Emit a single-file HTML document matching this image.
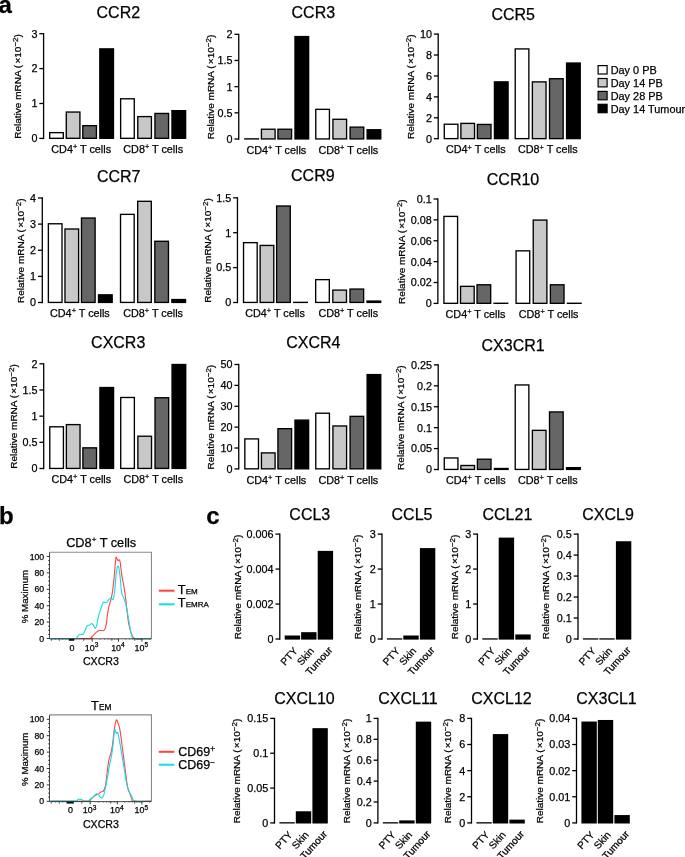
<!DOCTYPE html>
<html><head><meta charset="utf-8"><style>
html,body{margin:0;padding:0;background:#fff;width:685px;height:857px;overflow:hidden}
svg{display:block;font-family:"Liberation Sans", sans-serif;will-change:transform}
text{stroke:#000;stroke-width:0.25px;paint-order:stroke}
</style></head><body>
<svg width="685" height="857" viewBox="0 0 685 857">
<rect width="685" height="857" fill="#fff"/>
<line x1="43.60" y1="33.05" x2="43.60" y2="139.05" stroke="#000" stroke-width="1.3"/>
<line x1="39.30" y1="138.40" x2="43.60" y2="138.40" stroke="#000" stroke-width="1.3"/>
<text x="37.40" y="142.29" font-size="10.8" text-anchor="end" >0</text>
<line x1="39.30" y1="103.50" x2="43.60" y2="103.50" stroke="#000" stroke-width="1.3"/>
<text x="37.40" y="107.39" font-size="10.8" text-anchor="end" >1</text>
<line x1="39.30" y1="68.60" x2="43.60" y2="68.60" stroke="#000" stroke-width="1.3"/>
<text x="37.40" y="72.49" font-size="10.8" text-anchor="end" >2</text>
<line x1="39.30" y1="33.70" x2="43.60" y2="33.70" stroke="#000" stroke-width="1.3"/>
<text x="37.40" y="37.59" font-size="10.8" text-anchor="end" >3</text>
<rect x="49.67" y="132.64" width="13.65" height="5.68" fill="#fff" stroke="#000" stroke-width="1.35"/>
<rect x="66.27" y="112.05" width="13.65" height="26.27" fill="#c8c8c8" stroke="#000" stroke-width="1.35"/>
<rect x="82.77" y="125.66" width="13.65" height="12.66" fill="#666666" stroke="#000" stroke-width="1.35"/>
<rect x="99.83" y="48.88" width="13.65" height="89.44" fill="#000" stroke="#000" stroke-width="1.35"/>
<rect x="120.62" y="98.79" width="13.65" height="39.54" fill="#fff" stroke="#000" stroke-width="1.35"/>
<rect x="137.78" y="116.59" width="13.65" height="21.74" fill="#c8c8c8" stroke="#000" stroke-width="1.35"/>
<rect x="154.93" y="113.45" width="13.65" height="24.88" fill="#666666" stroke="#000" stroke-width="1.35"/>
<rect x="171.97" y="110.66" width="13.65" height="27.67" fill="#000" stroke="#000" stroke-width="1.35"/>
<text x="118.30" y="17.60" font-size="16" text-anchor="middle" >CCR2</text>
<text x="0" y="0" font-size="10.0" text-anchor="middle" transform="translate(20.70,86.45) rotate(-90) scale(1,0.96)">Relative mRNA (<tspan dx="1.3">×10</tspan><tspan font-size="8" dy="-3.1">−2</tspan><tspan dy="3.1">)</tspan></text>
<text x="81.20" y="153.00" font-size="10.8" text-anchor="middle">CD4<tspan font-size="7.4" dy="-3.8">+</tspan><tspan dy="3.8"> T cells</tspan></text>
<text x="153.20" y="153.00" font-size="10.8" text-anchor="middle">CD8<tspan font-size="7.4" dy="-3.8">+</tspan><tspan dy="3.8"> T cells</tspan></text>
<line x1="238.75" y1="33.65" x2="238.75" y2="139.65" stroke="#000" stroke-width="1.3"/>
<line x1="234.45" y1="139.00" x2="238.75" y2="139.00" stroke="#000" stroke-width="1.3"/>
<text x="232.55" y="142.89" font-size="10.8" text-anchor="end" >0</text>
<line x1="234.45" y1="112.83" x2="238.75" y2="112.83" stroke="#000" stroke-width="1.3"/>
<text x="232.55" y="116.71" font-size="10.8" text-anchor="end" >0.5</text>
<line x1="234.45" y1="86.65" x2="238.75" y2="86.65" stroke="#000" stroke-width="1.3"/>
<text x="232.55" y="90.54" font-size="10.8" text-anchor="end" >1</text>
<line x1="234.45" y1="60.47" x2="238.75" y2="60.47" stroke="#000" stroke-width="1.3"/>
<text x="232.55" y="64.36" font-size="10.8" text-anchor="end" >1.5</text>
<line x1="234.45" y1="34.30" x2="238.75" y2="34.30" stroke="#000" stroke-width="1.3"/>
<text x="232.55" y="38.19" font-size="10.8" text-anchor="end" >2</text>
<rect x="244.83" y="138.86" width="13.65" height="0.07" fill="#fff" stroke="#000" stroke-width="1.35"/>
<rect x="261.43" y="129.23" width="13.65" height="9.70" fill="#c8c8c8" stroke="#000" stroke-width="1.35"/>
<rect x="277.93" y="129.23" width="13.65" height="9.70" fill="#666666" stroke="#000" stroke-width="1.35"/>
<rect x="294.98" y="36.57" width="13.65" height="102.36" fill="#000" stroke="#000" stroke-width="1.35"/>
<rect x="315.78" y="109.34" width="13.65" height="29.59" fill="#fff" stroke="#000" stroke-width="1.35"/>
<rect x="332.93" y="119.28" width="13.65" height="19.64" fill="#c8c8c8" stroke="#000" stroke-width="1.35"/>
<rect x="350.07" y="127.13" width="13.65" height="11.79" fill="#666666" stroke="#000" stroke-width="1.35"/>
<rect x="367.12" y="129.75" width="13.65" height="9.17" fill="#000" stroke="#000" stroke-width="1.35"/>
<text x="313.30" y="17.70" font-size="16" text-anchor="middle" >CCR3</text>
<text x="0" y="0" font-size="10.0" text-anchor="middle" transform="translate(213.60,87.05) rotate(-90) scale(1,0.96)">Relative mRNA (<tspan dx="1.3">×10</tspan><tspan font-size="8" dy="-3.1">−2</tspan><tspan dy="3.1">)</tspan></text>
<text x="276.35" y="153.60" font-size="10.8" text-anchor="middle">CD4<tspan font-size="7.4" dy="-3.8">+</tspan><tspan dy="3.8"> T cells</tspan></text>
<text x="348.35" y="153.60" font-size="10.8" text-anchor="middle">CD8<tspan font-size="7.4" dy="-3.8">+</tspan><tspan dy="3.8"> T cells</tspan></text>
<line x1="438.20" y1="33.45" x2="438.20" y2="139.35" stroke="#000" stroke-width="1.3"/>
<line x1="433.90" y1="138.70" x2="438.20" y2="138.70" stroke="#000" stroke-width="1.3"/>
<text x="432.00" y="142.59" font-size="10.8" text-anchor="end" >0</text>
<line x1="433.90" y1="117.78" x2="438.20" y2="117.78" stroke="#000" stroke-width="1.3"/>
<text x="432.00" y="121.67" font-size="10.8" text-anchor="end" >2</text>
<line x1="433.90" y1="96.86" x2="438.20" y2="96.86" stroke="#000" stroke-width="1.3"/>
<text x="432.00" y="100.75" font-size="10.8" text-anchor="end" >4</text>
<line x1="433.90" y1="75.94" x2="438.20" y2="75.94" stroke="#000" stroke-width="1.3"/>
<text x="432.00" y="79.83" font-size="10.8" text-anchor="end" >6</text>
<line x1="433.90" y1="55.02" x2="438.20" y2="55.02" stroke="#000" stroke-width="1.3"/>
<text x="432.00" y="58.91" font-size="10.8" text-anchor="end" >8</text>
<line x1="433.90" y1="34.10" x2="438.20" y2="34.10" stroke="#000" stroke-width="1.3"/>
<text x="432.00" y="37.99" font-size="10.8" text-anchor="end" >10</text>
<rect x="444.27" y="124.23" width="13.65" height="14.39" fill="#fff" stroke="#000" stroke-width="1.35"/>
<rect x="460.88" y="123.39" width="13.65" height="15.23" fill="#c8c8c8" stroke="#000" stroke-width="1.35"/>
<rect x="477.38" y="124.44" width="13.65" height="14.18" fill="#666666" stroke="#000" stroke-width="1.35"/>
<rect x="494.43" y="81.87" width="13.65" height="56.76" fill="#000" stroke="#000" stroke-width="1.35"/>
<rect x="515.22" y="48.92" width="13.65" height="89.71" fill="#fff" stroke="#000" stroke-width="1.35"/>
<rect x="532.38" y="81.87" width="13.65" height="56.76" fill="#c8c8c8" stroke="#000" stroke-width="1.35"/>
<rect x="549.52" y="78.73" width="13.65" height="59.89" fill="#666666" stroke="#000" stroke-width="1.35"/>
<rect x="566.57" y="63.04" width="13.65" height="75.58" fill="#000" stroke="#000" stroke-width="1.35"/>
<text x="513.20" y="19.80" font-size="16" text-anchor="middle" >CCR5</text>
<text x="0" y="0" font-size="10.0" text-anchor="middle" transform="translate(414.20,86.80) rotate(-90) scale(1,0.96)">Relative mRNA (<tspan dx="1.3">×10</tspan><tspan font-size="8" dy="-3.1">−2</tspan><tspan dy="3.1">)</tspan></text>
<text x="475.80" y="153.30" font-size="10.8" text-anchor="middle">CD4<tspan font-size="7.4" dy="-3.8">+</tspan><tspan dy="3.8"> T cells</tspan></text>
<text x="547.80" y="153.30" font-size="10.8" text-anchor="middle">CD8<tspan font-size="7.4" dy="-3.8">+</tspan><tspan dy="3.8"> T cells</tspan></text>
<line x1="42.30" y1="197.35" x2="42.30" y2="303.15" stroke="#000" stroke-width="1.3"/>
<line x1="38.00" y1="302.50" x2="42.30" y2="302.50" stroke="#000" stroke-width="1.3"/>
<text x="36.10" y="306.39" font-size="10.8" text-anchor="end" >0</text>
<line x1="38.00" y1="276.38" x2="42.30" y2="276.38" stroke="#000" stroke-width="1.3"/>
<text x="36.10" y="280.26" font-size="10.8" text-anchor="end" >1</text>
<line x1="38.00" y1="250.25" x2="42.30" y2="250.25" stroke="#000" stroke-width="1.3"/>
<text x="36.10" y="254.14" font-size="10.8" text-anchor="end" >2</text>
<line x1="38.00" y1="224.12" x2="42.30" y2="224.12" stroke="#000" stroke-width="1.3"/>
<text x="36.10" y="228.01" font-size="10.8" text-anchor="end" >3</text>
<line x1="38.00" y1="198.00" x2="42.30" y2="198.00" stroke="#000" stroke-width="1.3"/>
<text x="36.10" y="201.89" font-size="10.8" text-anchor="end" >4</text>
<rect x="48.37" y="223.78" width="13.65" height="78.65" fill="#fff" stroke="#000" stroke-width="1.35"/>
<rect x="64.97" y="229.00" width="13.65" height="73.42" fill="#c8c8c8" stroke="#000" stroke-width="1.35"/>
<rect x="81.47" y="218.03" width="13.65" height="84.40" fill="#666666" stroke="#000" stroke-width="1.35"/>
<rect x="98.52" y="294.84" width="13.65" height="7.59" fill="#000" stroke="#000" stroke-width="1.35"/>
<rect x="120.52" y="214.37" width="13.65" height="88.05" fill="#fff" stroke="#000" stroke-width="1.35"/>
<rect x="137.68" y="201.31" width="13.65" height="101.12" fill="#c8c8c8" stroke="#000" stroke-width="1.35"/>
<rect x="154.82" y="241.28" width="13.65" height="61.14" fill="#666666" stroke="#000" stroke-width="1.35"/>
<rect x="171.88" y="299.54" width="13.65" height="2.89" fill="#000" stroke="#000" stroke-width="1.35"/>
<text x="118.70" y="182.00" font-size="16" text-anchor="middle" >CCR7</text>
<text x="0" y="0" font-size="10.0" text-anchor="middle" transform="translate(23.50,250.65) rotate(-90) scale(1,0.96)">Relative mRNA (<tspan dx="1.3">×10</tspan><tspan font-size="8" dy="-3.1">−2</tspan><tspan dy="3.1">)</tspan></text>
<text x="79.90" y="317.10" font-size="10.8" text-anchor="middle">CD4<tspan font-size="7.4" dy="-3.8">+</tspan><tspan dy="3.8"> T cells</tspan></text>
<text x="153.10" y="317.10" font-size="10.8" text-anchor="middle">CD8<tspan font-size="7.4" dy="-3.8">+</tspan><tspan dy="3.8"> T cells</tspan></text>
<line x1="237.45" y1="197.15" x2="237.45" y2="303.15" stroke="#000" stroke-width="1.3"/>
<line x1="233.15" y1="302.50" x2="237.45" y2="302.50" stroke="#000" stroke-width="1.3"/>
<text x="231.25" y="306.39" font-size="10.8" text-anchor="end" >0</text>
<line x1="233.15" y1="267.60" x2="237.45" y2="267.60" stroke="#000" stroke-width="1.3"/>
<text x="231.25" y="271.49" font-size="10.8" text-anchor="end" >0.5</text>
<line x1="233.15" y1="232.70" x2="237.45" y2="232.70" stroke="#000" stroke-width="1.3"/>
<text x="231.25" y="236.59" font-size="10.8" text-anchor="end" >1</text>
<line x1="233.15" y1="197.80" x2="237.45" y2="197.80" stroke="#000" stroke-width="1.3"/>
<text x="231.25" y="201.69" font-size="10.8" text-anchor="end" >1.5</text>
<rect x="243.53" y="242.65" width="13.65" height="59.78" fill="#fff" stroke="#000" stroke-width="1.35"/>
<rect x="260.12" y="245.44" width="13.65" height="56.99" fill="#c8c8c8" stroke="#000" stroke-width="1.35"/>
<rect x="276.62" y="206.00" width="13.65" height="96.42" fill="#666666" stroke="#000" stroke-width="1.35"/>
<rect x="293.68" y="302.36" width="13.65" height="0.07" fill="#000" stroke="#000" stroke-width="1.35"/>
<rect x="315.67" y="279.64" width="13.65" height="22.78" fill="#fff" stroke="#000" stroke-width="1.35"/>
<rect x="332.82" y="290.11" width="13.65" height="12.31" fill="#c8c8c8" stroke="#000" stroke-width="1.35"/>
<rect x="349.98" y="289.06" width="13.65" height="13.36" fill="#666666" stroke="#000" stroke-width="1.35"/>
<rect x="367.02" y="301.08" width="13.65" height="1.34" fill="#000" stroke="#000" stroke-width="1.35"/>
<text x="312.80" y="181.30" font-size="16" text-anchor="middle" >CCR9</text>
<text x="0" y="0" font-size="10.0" text-anchor="middle" transform="translate(211.20,250.55) rotate(-90) scale(1,0.96)">Relative mRNA (<tspan dx="1.3">×10</tspan><tspan font-size="8" dy="-3.1">−2</tspan><tspan dy="3.1">)</tspan></text>
<text x="275.05" y="317.10" font-size="10.8" text-anchor="middle">CD4<tspan font-size="7.4" dy="-3.8">+</tspan><tspan dy="3.8"> T cells</tspan></text>
<text x="348.25" y="317.10" font-size="10.8" text-anchor="middle">CD8<tspan font-size="7.4" dy="-3.8">+</tspan><tspan dy="3.8"> T cells</tspan></text>
<line x1="437.85" y1="198.35" x2="437.85" y2="304.05" stroke="#000" stroke-width="1.3"/>
<line x1="433.55" y1="303.40" x2="437.85" y2="303.40" stroke="#000" stroke-width="1.3"/>
<text x="431.65" y="307.29" font-size="10.8" text-anchor="end" >0</text>
<line x1="433.55" y1="282.52" x2="437.85" y2="282.52" stroke="#000" stroke-width="1.3"/>
<text x="431.65" y="286.41" font-size="10.8" text-anchor="end" >0.02</text>
<line x1="433.55" y1="261.64" x2="437.85" y2="261.64" stroke="#000" stroke-width="1.3"/>
<text x="431.65" y="265.53" font-size="10.8" text-anchor="end" >0.04</text>
<line x1="433.55" y1="240.76" x2="437.85" y2="240.76" stroke="#000" stroke-width="1.3"/>
<text x="431.65" y="244.65" font-size="10.8" text-anchor="end" >0.06</text>
<line x1="433.55" y1="219.88" x2="437.85" y2="219.88" stroke="#000" stroke-width="1.3"/>
<text x="431.65" y="223.77" font-size="10.8" text-anchor="end" >0.08</text>
<line x1="433.55" y1="199.00" x2="437.85" y2="199.00" stroke="#000" stroke-width="1.3"/>
<text x="431.65" y="202.89" font-size="10.8" text-anchor="end" >0.1</text>
<rect x="443.93" y="216.40" width="13.65" height="86.92" fill="#fff" stroke="#000" stroke-width="1.35"/>
<rect x="460.53" y="286.35" width="13.65" height="16.98" fill="#c8c8c8" stroke="#000" stroke-width="1.35"/>
<rect x="477.03" y="284.78" width="13.65" height="18.54" fill="#666666" stroke="#000" stroke-width="1.35"/>
<rect x="494.08" y="303.26" width="13.65" height="0.07" fill="#000" stroke="#000" stroke-width="1.35"/>
<rect x="516.08" y="250.85" width="13.65" height="52.47" fill="#fff" stroke="#000" stroke-width="1.35"/>
<rect x="533.23" y="220.06" width="13.65" height="83.27" fill="#c8c8c8" stroke="#000" stroke-width="1.35"/>
<rect x="550.38" y="284.78" width="13.65" height="18.54" fill="#666666" stroke="#000" stroke-width="1.35"/>
<rect x="567.42" y="303.26" width="13.65" height="0.07" fill="#000" stroke="#000" stroke-width="1.35"/>
<text x="513.00" y="185.00" font-size="16" text-anchor="middle" >CCR10</text>
<text x="0" y="0" font-size="10.0" text-anchor="middle" transform="translate(404.50,251.60) rotate(-90) scale(1,0.96)">Relative mRNA (<tspan dx="1.3">×10</tspan><tspan font-size="8" dy="-3.1">−2</tspan><tspan dy="3.1">)</tspan></text>
<text x="475.45" y="318.00" font-size="10.8" text-anchor="middle">CD4<tspan font-size="7.4" dy="-3.8">+</tspan><tspan dy="3.8"> T cells</tspan></text>
<text x="548.65" y="318.00" font-size="10.8" text-anchor="middle">CD8<tspan font-size="7.4" dy="-3.8">+</tspan><tspan dy="3.8"> T cells</tspan></text>
<line x1="43.70" y1="363.15" x2="43.70" y2="469.15" stroke="#000" stroke-width="1.3"/>
<line x1="39.40" y1="468.50" x2="43.70" y2="468.50" stroke="#000" stroke-width="1.3"/>
<text x="37.50" y="472.39" font-size="10.8" text-anchor="end" >0</text>
<line x1="39.40" y1="442.32" x2="43.70" y2="442.32" stroke="#000" stroke-width="1.3"/>
<text x="37.50" y="446.21" font-size="10.8" text-anchor="end" >0.5</text>
<line x1="39.40" y1="416.15" x2="43.70" y2="416.15" stroke="#000" stroke-width="1.3"/>
<text x="37.50" y="420.04" font-size="10.8" text-anchor="end" >1</text>
<line x1="39.40" y1="389.98" x2="43.70" y2="389.98" stroke="#000" stroke-width="1.3"/>
<text x="37.50" y="393.86" font-size="10.8" text-anchor="end" >1.5</text>
<line x1="39.40" y1="363.80" x2="43.70" y2="363.80" stroke="#000" stroke-width="1.3"/>
<text x="37.50" y="367.69" font-size="10.8" text-anchor="end" >2</text>
<rect x="49.77" y="426.80" width="13.65" height="41.63" fill="#fff" stroke="#000" stroke-width="1.35"/>
<rect x="66.38" y="424.60" width="13.65" height="43.83" fill="#c8c8c8" stroke="#000" stroke-width="1.35"/>
<rect x="82.88" y="447.84" width="13.65" height="20.59" fill="#666666" stroke="#000" stroke-width="1.35"/>
<rect x="99.92" y="387.53" width="13.65" height="80.89" fill="#000" stroke="#000" stroke-width="1.35"/>
<rect x="120.72" y="397.48" width="13.65" height="70.95" fill="#fff" stroke="#000" stroke-width="1.35"/>
<rect x="137.88" y="436.22" width="13.65" height="32.21" fill="#c8c8c8" stroke="#000" stroke-width="1.35"/>
<rect x="155.03" y="397.74" width="13.65" height="70.68" fill="#666666" stroke="#000" stroke-width="1.35"/>
<rect x="172.07" y="364.50" width="13.65" height="103.93" fill="#000" stroke="#000" stroke-width="1.35"/>
<text x="118.20" y="347.50" font-size="16" text-anchor="middle" >CXCR3</text>
<text x="0" y="0" font-size="10.0" text-anchor="middle" transform="translate(17.20,416.55) rotate(-90) scale(1,0.96)">Relative mRNA (<tspan dx="1.3">×10</tspan><tspan font-size="8" dy="-3.1">−2</tspan><tspan dy="3.1">)</tspan></text>
<text x="81.30" y="483.10" font-size="10.8" text-anchor="middle">CD4<tspan font-size="7.4" dy="-3.8">+</tspan><tspan dy="3.8"> T cells</tspan></text>
<text x="153.30" y="483.10" font-size="10.8" text-anchor="middle">CD8<tspan font-size="7.4" dy="-3.8">+</tspan><tspan dy="3.8"> T cells</tspan></text>
<line x1="238.75" y1="363.85" x2="238.75" y2="469.55" stroke="#000" stroke-width="1.3"/>
<line x1="234.45" y1="468.90" x2="238.75" y2="468.90" stroke="#000" stroke-width="1.3"/>
<text x="232.55" y="472.79" font-size="10.8" text-anchor="end" >0</text>
<line x1="234.45" y1="448.02" x2="238.75" y2="448.02" stroke="#000" stroke-width="1.3"/>
<text x="232.55" y="451.91" font-size="10.8" text-anchor="end" >10</text>
<line x1="234.45" y1="427.14" x2="238.75" y2="427.14" stroke="#000" stroke-width="1.3"/>
<text x="232.55" y="431.03" font-size="10.8" text-anchor="end" >20</text>
<line x1="234.45" y1="406.26" x2="238.75" y2="406.26" stroke="#000" stroke-width="1.3"/>
<text x="232.55" y="410.15" font-size="10.8" text-anchor="end" >30</text>
<line x1="234.45" y1="385.38" x2="238.75" y2="385.38" stroke="#000" stroke-width="1.3"/>
<text x="232.55" y="389.27" font-size="10.8" text-anchor="end" >40</text>
<line x1="234.45" y1="364.50" x2="238.75" y2="364.50" stroke="#000" stroke-width="1.3"/>
<text x="232.55" y="368.39" font-size="10.8" text-anchor="end" >50</text>
<rect x="244.83" y="438.90" width="13.65" height="29.92" fill="#fff" stroke="#000" stroke-width="1.35"/>
<rect x="261.43" y="452.89" width="13.65" height="15.93" fill="#c8c8c8" stroke="#000" stroke-width="1.35"/>
<rect x="277.93" y="428.67" width="13.65" height="40.15" fill="#666666" stroke="#000" stroke-width="1.35"/>
<rect x="294.98" y="420.11" width="13.65" height="48.71" fill="#000" stroke="#000" stroke-width="1.35"/>
<rect x="315.78" y="413.22" width="13.65" height="55.60" fill="#fff" stroke="#000" stroke-width="1.35"/>
<rect x="332.93" y="425.96" width="13.65" height="42.87" fill="#c8c8c8" stroke="#000" stroke-width="1.35"/>
<rect x="350.07" y="416.35" width="13.65" height="52.47" fill="#666666" stroke="#000" stroke-width="1.35"/>
<rect x="367.12" y="374.59" width="13.65" height="94.23" fill="#000" stroke="#000" stroke-width="1.35"/>
<text x="313.30" y="347.50" font-size="16" text-anchor="middle" >CXCR4</text>
<text x="0" y="0" font-size="10.0" text-anchor="middle" transform="translate(214.00,417.10) rotate(-90) scale(1,0.96)">Relative mRNA (<tspan dx="1.3">×10</tspan><tspan font-size="8" dy="-3.1">−2</tspan><tspan dy="3.1">)</tspan></text>
<text x="276.35" y="483.50" font-size="10.8" text-anchor="middle">CD4<tspan font-size="7.4" dy="-3.8">+</tspan><tspan dy="3.8"> T cells</tspan></text>
<text x="348.35" y="483.50" font-size="10.8" text-anchor="middle">CD8<tspan font-size="7.4" dy="-3.8">+</tspan><tspan dy="3.8"> T cells</tspan></text>
<line x1="438.20" y1="364.25" x2="438.20" y2="470.15" stroke="#000" stroke-width="1.3"/>
<line x1="433.90" y1="469.50" x2="438.20" y2="469.50" stroke="#000" stroke-width="1.3"/>
<text x="432.00" y="473.39" font-size="10.8" text-anchor="end" >0</text>
<line x1="433.90" y1="448.58" x2="438.20" y2="448.58" stroke="#000" stroke-width="1.3"/>
<text x="432.00" y="452.47" font-size="10.8" text-anchor="end" >0.05</text>
<line x1="433.90" y1="427.66" x2="438.20" y2="427.66" stroke="#000" stroke-width="1.3"/>
<text x="432.00" y="431.55" font-size="10.8" text-anchor="end" >0.1</text>
<line x1="433.90" y1="406.74" x2="438.20" y2="406.74" stroke="#000" stroke-width="1.3"/>
<text x="432.00" y="410.63" font-size="10.8" text-anchor="end" >0.15</text>
<line x1="433.90" y1="385.82" x2="438.20" y2="385.82" stroke="#000" stroke-width="1.3"/>
<text x="432.00" y="389.71" font-size="10.8" text-anchor="end" >0.2</text>
<line x1="433.90" y1="364.90" x2="438.20" y2="364.90" stroke="#000" stroke-width="1.3"/>
<text x="432.00" y="368.79" font-size="10.8" text-anchor="end" >0.25</text>
<rect x="444.27" y="457.96" width="13.65" height="11.47" fill="#fff" stroke="#000" stroke-width="1.35"/>
<rect x="460.88" y="465.49" width="13.65" height="3.93" fill="#c8c8c8" stroke="#000" stroke-width="1.35"/>
<rect x="477.38" y="459.22" width="13.65" height="10.21" fill="#666666" stroke="#000" stroke-width="1.35"/>
<rect x="494.43" y="468.50" width="13.65" height="0.92" fill="#000" stroke="#000" stroke-width="1.35"/>
<rect x="515.22" y="384.95" width="13.65" height="84.48" fill="#fff" stroke="#000" stroke-width="1.35"/>
<rect x="532.38" y="430.35" width="13.65" height="39.08" fill="#c8c8c8" stroke="#000" stroke-width="1.35"/>
<rect x="549.52" y="411.94" width="13.65" height="57.49" fill="#666666" stroke="#000" stroke-width="1.35"/>
<rect x="566.57" y="467.66" width="13.65" height="1.76" fill="#000" stroke="#000" stroke-width="1.35"/>
<text x="513.10" y="350.60" font-size="16" text-anchor="middle" >CX3CR1</text>
<text x="0" y="0" font-size="10.0" text-anchor="middle" transform="translate(404.40,417.60) rotate(-90) scale(1,0.96)">Relative mRNA (<tspan dx="1.3">×10</tspan><tspan font-size="8" dy="-3.1">−2</tspan><tspan dy="3.1">)</tspan></text>
<text x="475.80" y="484.10" font-size="10.8" text-anchor="middle">CD4<tspan font-size="7.4" dy="-3.8">+</tspan><tspan dy="3.8"> T cells</tspan></text>
<text x="547.80" y="484.10" font-size="10.8" text-anchor="middle">CD8<tspan font-size="7.4" dy="-3.8">+</tspan><tspan dy="3.8"> T cells</tspan></text>
<rect x="598.10" y="65.60" width="9.00" height="8.40" fill="#fff" stroke="#000" stroke-width="1.2"/>
<text x="610.70" y="73.90" font-size="10.9" text-anchor="start" >Day 0 PB</text>
<rect x="598.10" y="78.50" width="9.00" height="8.40" fill="#c8c8c8" stroke="#000" stroke-width="1.2"/>
<text x="610.70" y="86.80" font-size="10.9" text-anchor="start" >Day 14 PB</text>
<rect x="598.10" y="91.40" width="9.00" height="8.40" fill="#666666" stroke="#000" stroke-width="1.2"/>
<text x="610.70" y="99.70" font-size="10.9" text-anchor="start" >Day 28 PB</text>
<rect x="598.10" y="104.30" width="9.00" height="8.40" fill="#000" stroke="#000" stroke-width="1.2"/>
<text x="610.70" y="112.60" font-size="10.9" text-anchor="start" >Day 14 Tumour</text>
<text x="-1.60" y="12.90" font-size="24" text-anchor="start" font-weight="bold" >a</text>
<text x="-1.00" y="524.30" font-size="24" text-anchor="start" font-weight="bold" >b</text>
<text x="206.20" y="524.10" font-size="24" text-anchor="start" font-weight="bold" >c</text>
<line x1="279.80" y1="533.45" x2="279.80" y2="639.65" stroke="#000" stroke-width="1.3"/>
<line x1="275.50" y1="639.00" x2="279.80" y2="639.00" stroke="#000" stroke-width="1.3"/>
<text x="273.60" y="642.89" font-size="10.8" text-anchor="end" >0</text>
<line x1="275.50" y1="604.03" x2="279.80" y2="604.03" stroke="#000" stroke-width="1.3"/>
<text x="273.60" y="607.92" font-size="10.8" text-anchor="end" >0.002</text>
<line x1="275.50" y1="569.07" x2="279.80" y2="569.07" stroke="#000" stroke-width="1.3"/>
<text x="273.60" y="572.95" font-size="10.8" text-anchor="end" >0.004</text>
<line x1="275.50" y1="534.10" x2="279.80" y2="534.10" stroke="#000" stroke-width="1.3"/>
<text x="273.60" y="537.99" font-size="10.8" text-anchor="end" >0.006</text>
<rect x="284.70" y="635.50" width="15.40" height="4.10" fill="#000"/>
<rect x="301.10" y="632.18" width="15.40" height="7.42" fill="#000"/>
<rect x="317.70" y="550.88" width="15.40" height="88.72" fill="#000"/>
<text x="309.80" y="520.10" font-size="16" text-anchor="middle" >CCL3</text>
<text x="0" y="0" font-size="10.0" text-anchor="middle" transform="translate(240.60,586.95) rotate(-90) scale(1,0.96)">Relative mRNA (<tspan dx="1.3">×10</tspan><tspan font-size="8" dy="-3.1">−2</tspan><tspan dy="3.1">)</tspan></text>
<text x="0" y="0" font-size="10.1" text-anchor="end" transform="translate(298.20,651.30) rotate(-48)">PTY</text>
<text x="0" y="0" font-size="10.1" text-anchor="end" transform="translate(314.60,651.30) rotate(-48)">Skin</text>
<text x="0" y="0" font-size="10.1" text-anchor="end" transform="translate(333.00,650.50) rotate(-48)">Tumour</text>
<line x1="382.00" y1="533.45" x2="382.00" y2="639.65" stroke="#000" stroke-width="1.3"/>
<line x1="377.70" y1="639.00" x2="382.00" y2="639.00" stroke="#000" stroke-width="1.3"/>
<text x="375.80" y="642.89" font-size="10.8" text-anchor="end" >0</text>
<line x1="377.70" y1="604.03" x2="382.00" y2="604.03" stroke="#000" stroke-width="1.3"/>
<text x="375.80" y="607.92" font-size="10.8" text-anchor="end" >1</text>
<line x1="377.70" y1="569.07" x2="382.00" y2="569.07" stroke="#000" stroke-width="1.3"/>
<text x="375.80" y="572.95" font-size="10.8" text-anchor="end" >2</text>
<line x1="377.70" y1="534.10" x2="382.00" y2="534.10" stroke="#000" stroke-width="1.3"/>
<text x="375.80" y="537.99" font-size="10.8" text-anchor="end" >3</text>
<rect x="386.90" y="638.30" width="15.40" height="1.30" fill="#000"/>
<rect x="403.30" y="635.50" width="15.40" height="4.10" fill="#000"/>
<rect x="419.90" y="548.09" width="15.40" height="91.51" fill="#000"/>
<text x="412.00" y="520.10" font-size="16" text-anchor="middle" >CCL5</text>
<text x="0" y="0" font-size="10.0" text-anchor="middle" transform="translate(361.00,586.95) rotate(-90) scale(1,0.96)">Relative mRNA (<tspan dx="1.3">×10</tspan><tspan font-size="8" dy="-3.1">−2</tspan><tspan dy="3.1">)</tspan></text>
<text x="0" y="0" font-size="10.1" text-anchor="end" transform="translate(400.40,651.30) rotate(-48)">PTY</text>
<text x="0" y="0" font-size="10.1" text-anchor="end" transform="translate(416.80,651.30) rotate(-48)">Skin</text>
<text x="0" y="0" font-size="10.1" text-anchor="end" transform="translate(435.20,650.50) rotate(-48)">Tumour</text>
<line x1="477.40" y1="533.45" x2="477.40" y2="639.65" stroke="#000" stroke-width="1.3"/>
<line x1="473.10" y1="639.00" x2="477.40" y2="639.00" stroke="#000" stroke-width="1.3"/>
<text x="471.20" y="642.89" font-size="10.8" text-anchor="end" >0</text>
<line x1="473.10" y1="604.03" x2="477.40" y2="604.03" stroke="#000" stroke-width="1.3"/>
<text x="471.20" y="607.92" font-size="10.8" text-anchor="end" >1</text>
<line x1="473.10" y1="569.07" x2="477.40" y2="569.07" stroke="#000" stroke-width="1.3"/>
<text x="471.20" y="572.95" font-size="10.8" text-anchor="end" >2</text>
<line x1="473.10" y1="534.10" x2="477.40" y2="534.10" stroke="#000" stroke-width="1.3"/>
<text x="471.20" y="537.99" font-size="10.8" text-anchor="end" >3</text>
<rect x="482.30" y="638.30" width="15.40" height="1.30" fill="#000"/>
<rect x="498.70" y="537.60" width="15.40" height="102.00" fill="#000"/>
<rect x="515.30" y="634.45" width="15.40" height="5.15" fill="#000"/>
<text x="507.40" y="520.10" font-size="16" text-anchor="middle" >CCL21</text>
<text x="0" y="0" font-size="10.0" text-anchor="middle" transform="translate(458.40,586.95) rotate(-90) scale(1,0.96)">Relative mRNA (<tspan dx="1.3">×10</tspan><tspan font-size="8" dy="-3.1">−2</tspan><tspan dy="3.1">)</tspan></text>
<text x="0" y="0" font-size="10.1" text-anchor="end" transform="translate(495.80,651.30) rotate(-48)">PTY</text>
<text x="0" y="0" font-size="10.1" text-anchor="end" transform="translate(512.20,651.30) rotate(-48)">Skin</text>
<text x="0" y="0" font-size="10.1" text-anchor="end" transform="translate(530.60,650.50) rotate(-48)">Tumour</text>
<line x1="578.00" y1="533.45" x2="578.00" y2="639.65" stroke="#000" stroke-width="1.3"/>
<line x1="573.70" y1="639.00" x2="578.00" y2="639.00" stroke="#000" stroke-width="1.3"/>
<text x="571.80" y="642.89" font-size="10.8" text-anchor="end" >0</text>
<line x1="573.70" y1="618.02" x2="578.00" y2="618.02" stroke="#000" stroke-width="1.3"/>
<text x="571.80" y="621.91" font-size="10.8" text-anchor="end" >0.1</text>
<line x1="573.70" y1="597.04" x2="578.00" y2="597.04" stroke="#000" stroke-width="1.3"/>
<text x="571.80" y="600.93" font-size="10.8" text-anchor="end" >0.2</text>
<line x1="573.70" y1="576.06" x2="578.00" y2="576.06" stroke="#000" stroke-width="1.3"/>
<text x="571.80" y="579.95" font-size="10.8" text-anchor="end" >0.3</text>
<line x1="573.70" y1="555.08" x2="578.00" y2="555.08" stroke="#000" stroke-width="1.3"/>
<text x="571.80" y="558.97" font-size="10.8" text-anchor="end" >0.4</text>
<line x1="573.70" y1="534.10" x2="578.00" y2="534.10" stroke="#000" stroke-width="1.3"/>
<text x="571.80" y="537.99" font-size="10.8" text-anchor="end" >0.5</text>
<rect x="582.90" y="638.30" width="15.40" height="1.30" fill="#000"/>
<rect x="599.30" y="638.30" width="15.40" height="1.30" fill="#000"/>
<rect x="615.90" y="541.23" width="15.40" height="98.37" fill="#000"/>
<text x="608.00" y="520.10" font-size="16" text-anchor="middle" >CXCL9</text>
<text x="0" y="0" font-size="10.0" text-anchor="middle" transform="translate(548.70,586.95) rotate(-90) scale(1,0.96)">Relative mRNA (<tspan dx="1.3">×10</tspan><tspan font-size="8" dy="-3.1">−2</tspan><tspan dy="3.1">)</tspan></text>
<text x="0" y="0" font-size="10.1" text-anchor="end" transform="translate(596.40,651.30) rotate(-48)">PTY</text>
<text x="0" y="0" font-size="10.1" text-anchor="end" transform="translate(612.80,651.30) rotate(-48)">Skin</text>
<text x="0" y="0" font-size="10.1" text-anchor="end" transform="translate(631.20,650.50) rotate(-48)">Tumour</text>
<line x1="274.50" y1="717.75" x2="274.50" y2="823.55" stroke="#000" stroke-width="1.3"/>
<line x1="270.20" y1="822.90" x2="274.50" y2="822.90" stroke="#000" stroke-width="1.3"/>
<text x="268.30" y="826.79" font-size="10.8" text-anchor="end" >0</text>
<line x1="270.20" y1="788.07" x2="274.50" y2="788.07" stroke="#000" stroke-width="1.3"/>
<text x="268.30" y="791.95" font-size="10.8" text-anchor="end" >0.05</text>
<line x1="270.20" y1="753.23" x2="274.50" y2="753.23" stroke="#000" stroke-width="1.3"/>
<text x="268.30" y="757.12" font-size="10.8" text-anchor="end" >0.1</text>
<line x1="270.20" y1="718.40" x2="274.50" y2="718.40" stroke="#000" stroke-width="1.3"/>
<text x="268.30" y="722.29" font-size="10.8" text-anchor="end" >0.15</text>
<rect x="279.40" y="822.20" width="15.40" height="1.30" fill="#000"/>
<rect x="295.80" y="811.27" width="15.40" height="12.23" fill="#000"/>
<rect x="312.40" y="728.15" width="15.40" height="95.35" fill="#000"/>
<text x="304.50" y="704.40" font-size="16" text-anchor="middle" >CXCL10</text>
<text x="0" y="0" font-size="10.0" text-anchor="middle" transform="translate(239.90,771.05) rotate(-90) scale(1,0.96)">Relative mRNA (<tspan dx="1.3">×10</tspan><tspan font-size="8" dy="-3.1">−2</tspan><tspan dy="3.1">)</tspan></text>
<text x="0" y="0" font-size="10.1" text-anchor="end" transform="translate(292.90,835.20) rotate(-48)">PTY</text>
<text x="0" y="0" font-size="10.1" text-anchor="end" transform="translate(309.30,835.20) rotate(-48)">Skin</text>
<text x="0" y="0" font-size="10.1" text-anchor="end" transform="translate(327.70,834.40) rotate(-48)">Tumour</text>
<line x1="377.90" y1="717.75" x2="377.90" y2="823.55" stroke="#000" stroke-width="1.3"/>
<line x1="373.60" y1="822.90" x2="377.90" y2="822.90" stroke="#000" stroke-width="1.3"/>
<text x="371.70" y="826.79" font-size="10.8" text-anchor="end" >0</text>
<line x1="373.60" y1="802.00" x2="377.90" y2="802.00" stroke="#000" stroke-width="1.3"/>
<text x="371.70" y="805.89" font-size="10.8" text-anchor="end" >0.2</text>
<line x1="373.60" y1="781.10" x2="377.90" y2="781.10" stroke="#000" stroke-width="1.3"/>
<text x="371.70" y="784.99" font-size="10.8" text-anchor="end" >0.4</text>
<line x1="373.60" y1="760.20" x2="377.90" y2="760.20" stroke="#000" stroke-width="1.3"/>
<text x="371.70" y="764.09" font-size="10.8" text-anchor="end" >0.6</text>
<line x1="373.60" y1="739.30" x2="377.90" y2="739.30" stroke="#000" stroke-width="1.3"/>
<text x="371.70" y="743.19" font-size="10.8" text-anchor="end" >0.8</text>
<line x1="373.60" y1="718.40" x2="377.90" y2="718.40" stroke="#000" stroke-width="1.3"/>
<text x="371.70" y="722.29" font-size="10.8" text-anchor="end" >1</text>
<rect x="382.80" y="822.20" width="15.40" height="1.30" fill="#000"/>
<rect x="399.20" y="820.39" width="15.40" height="3.11" fill="#000"/>
<rect x="415.80" y="721.64" width="15.40" height="101.86" fill="#000"/>
<text x="407.90" y="704.40" font-size="16" text-anchor="middle" >CXCL11</text>
<text x="0" y="0" font-size="10.0" text-anchor="middle" transform="translate(350.00,771.05) rotate(-90) scale(1,0.96)">Relative mRNA (<tspan dx="1.3">×10</tspan><tspan font-size="8" dy="-3.1">−2</tspan><tspan dy="3.1">)</tspan></text>
<text x="0" y="0" font-size="10.1" text-anchor="end" transform="translate(396.30,835.20) rotate(-48)">PTY</text>
<text x="0" y="0" font-size="10.1" text-anchor="end" transform="translate(412.70,835.20) rotate(-48)">Skin</text>
<text x="0" y="0" font-size="10.1" text-anchor="end" transform="translate(431.10,834.40) rotate(-48)">Tumour</text>
<line x1="471.50" y1="717.75" x2="471.50" y2="823.55" stroke="#000" stroke-width="1.3"/>
<line x1="467.20" y1="822.90" x2="471.50" y2="822.90" stroke="#000" stroke-width="1.3"/>
<text x="465.30" y="826.79" font-size="10.8" text-anchor="end" >0</text>
<line x1="467.20" y1="796.77" x2="471.50" y2="796.77" stroke="#000" stroke-width="1.3"/>
<text x="465.30" y="800.66" font-size="10.8" text-anchor="end" >2</text>
<line x1="467.20" y1="770.65" x2="471.50" y2="770.65" stroke="#000" stroke-width="1.3"/>
<text x="465.30" y="774.54" font-size="10.8" text-anchor="end" >4</text>
<line x1="467.20" y1="744.52" x2="471.50" y2="744.52" stroke="#000" stroke-width="1.3"/>
<text x="465.30" y="748.41" font-size="10.8" text-anchor="end" >6</text>
<line x1="467.20" y1="718.40" x2="471.50" y2="718.40" stroke="#000" stroke-width="1.3"/>
<text x="465.30" y="722.29" font-size="10.8" text-anchor="end" >8</text>
<rect x="476.40" y="822.20" width="15.40" height="1.30" fill="#000"/>
<rect x="492.80" y="734.07" width="15.40" height="89.43" fill="#000"/>
<rect x="509.40" y="819.63" width="15.40" height="3.87" fill="#000"/>
<text x="501.50" y="704.40" font-size="16" text-anchor="middle" >CXCL12</text>
<text x="0" y="0" font-size="10.0" text-anchor="middle" transform="translate(450.50,771.05) rotate(-90) scale(1,0.96)">Relative mRNA (<tspan dx="1.3">×10</tspan><tspan font-size="8" dy="-3.1">−2</tspan><tspan dy="3.1">)</tspan></text>
<text x="0" y="0" font-size="10.1" text-anchor="end" transform="translate(489.90,835.20) rotate(-48)">PTY</text>
<text x="0" y="0" font-size="10.1" text-anchor="end" transform="translate(506.30,835.20) rotate(-48)">Skin</text>
<text x="0" y="0" font-size="10.1" text-anchor="end" transform="translate(524.70,834.40) rotate(-48)">Tumour</text>
<line x1="576.50" y1="717.75" x2="576.50" y2="823.55" stroke="#000" stroke-width="1.3"/>
<line x1="572.20" y1="822.90" x2="576.50" y2="822.90" stroke="#000" stroke-width="1.3"/>
<text x="570.30" y="826.79" font-size="10.8" text-anchor="end" >0</text>
<line x1="572.20" y1="796.77" x2="576.50" y2="796.77" stroke="#000" stroke-width="1.3"/>
<text x="570.30" y="800.66" font-size="10.8" text-anchor="end" >0.01</text>
<line x1="572.20" y1="770.65" x2="576.50" y2="770.65" stroke="#000" stroke-width="1.3"/>
<text x="570.30" y="774.54" font-size="10.8" text-anchor="end" >0.02</text>
<line x1="572.20" y1="744.52" x2="576.50" y2="744.52" stroke="#000" stroke-width="1.3"/>
<text x="570.30" y="748.41" font-size="10.8" text-anchor="end" >0.03</text>
<line x1="572.20" y1="718.40" x2="576.50" y2="718.40" stroke="#000" stroke-width="1.3"/>
<text x="570.30" y="722.29" font-size="10.8" text-anchor="end" >0.04</text>
<rect x="581.40" y="721.53" width="15.40" height="101.97" fill="#000"/>
<rect x="597.80" y="719.97" width="15.40" height="103.53" fill="#000"/>
<rect x="614.40" y="815.06" width="15.40" height="8.44" fill="#000"/>
<text x="606.50" y="704.40" font-size="16" text-anchor="middle" >CX3CL1</text>
<text x="0" y="0" font-size="10.0" text-anchor="middle" transform="translate(542.90,771.05) rotate(-90) scale(1,0.96)">Relative mRNA (<tspan dx="1.3">×10</tspan><tspan font-size="8" dy="-3.1">−2</tspan><tspan dy="3.1">)</tspan></text>
<text x="0" y="0" font-size="10.1" text-anchor="end" transform="translate(594.90,835.20) rotate(-48)">PTY</text>
<text x="0" y="0" font-size="10.1" text-anchor="end" transform="translate(611.30,835.20) rotate(-48)">Skin</text>
<text x="0" y="0" font-size="10.1" text-anchor="end" transform="translate(629.70,834.40) rotate(-48)">Tumour</text>
<path d="M50.50,638.60 C56.92,638.60 82.23,638.78 89.00,638.60 C95.77,638.42 90.30,638.13 91.10,637.50 C91.90,636.87 92.90,635.70 93.80,634.80 C94.70,633.90 95.60,632.82 96.50,632.10 C97.40,631.38 98.32,630.73 99.20,630.50 C100.08,630.27 100.92,630.78 101.80,630.70 C102.68,630.62 103.78,630.92 104.50,630.00 C105.22,629.08 105.65,627.43 106.10,625.20 C106.55,622.97 106.75,619.65 107.20,616.60 C107.65,613.55 108.17,609.77 108.80,606.90 C109.43,604.03 110.37,602.08 111.00,599.40 C111.63,596.72 112.07,594.57 112.60,590.80 C113.13,587.03 113.67,582.17 114.20,576.80 C114.73,571.43 115.38,561.70 115.80,558.60 C116.22,555.50 116.33,557.85 116.70,558.20 C117.07,558.55 117.58,560.45 118.00,560.70 C118.42,560.95 118.85,559.52 119.20,559.70 C119.55,559.88 119.68,559.30 120.10,561.80 C120.52,564.30 121.17,571.12 121.70,574.70 C122.23,578.28 122.77,580.27 123.30,583.30 C123.83,586.33 124.37,589.15 124.90,592.90 C125.43,596.65 125.97,601.32 126.50,605.80 C127.03,610.28 127.55,616.03 128.10,619.80 C128.65,623.57 129.17,625.90 129.80,628.40 C130.43,630.90 131.02,633.10 131.90,634.80 C132.78,636.50 131.87,637.97 135.10,638.60 C138.33,639.23 148.60,638.60 151.30,638.60" fill="none" stroke="#ff4242" stroke-width="1.1"/>
<path d="M50.50,638.60 C54.58,638.60 70.57,638.87 75.00,638.60 C79.43,638.33 76.30,637.72 77.10,637.00 C77.90,636.28 78.80,634.75 79.80,634.30 C80.80,633.85 82.20,635.02 83.10,634.30 C84.00,633.58 84.50,631.43 85.20,630.00 C85.90,628.57 86.58,626.50 87.30,625.70 C88.02,624.90 88.78,625.57 89.50,625.20 C90.22,624.83 90.97,623.50 91.60,623.50 C92.23,623.50 92.67,624.38 93.30,625.20 C93.93,626.02 94.78,628.58 95.40,628.40 C96.02,628.22 96.47,626.25 97.00,624.10 C97.53,621.95 97.97,618.02 98.60,615.50 C99.23,612.98 100.08,611.07 100.80,609.00 C101.52,606.93 102.28,604.25 102.90,603.10 C103.52,601.95 103.87,602.18 104.50,602.10 C105.13,602.02 105.98,603.05 106.70,602.60 C107.42,602.15 108.08,600.20 108.80,599.40 C109.52,598.60 110.28,597.80 111.00,597.80 C111.72,597.80 112.48,600.57 113.10,599.40 C113.72,598.23 114.17,595.28 114.70,590.80 C115.23,586.32 115.77,576.62 116.30,572.50 C116.83,568.38 117.45,566.80 117.90,566.10 C118.35,565.40 118.63,566.52 119.00,568.30 C119.37,570.08 119.65,572.70 120.10,576.80 C120.55,580.90 121.07,589.32 121.70,592.90 C122.33,596.48 123.18,596.32 123.90,598.30 C124.62,600.28 125.38,602.30 126.00,604.80 C126.62,607.30 127.07,610.27 127.60,613.30 C128.13,616.33 128.67,619.95 129.20,623.00 C129.73,626.05 130.27,629.18 130.80,631.60 C131.33,634.02 131.87,636.33 132.40,637.50 C132.93,638.67 130.85,638.42 134.00,638.60 C137.15,638.78 148.42,638.60 151.30,638.60" fill="none" stroke="#12dde3" stroke-width="1.1"/>
<path d="M49.5,552.3 H151.45 V638.8" fill="none" stroke="#8a8a8a" stroke-width="1.1"/>
<path d="M49.5,552.3 V638.8 H151.45" fill="none" stroke="#333" stroke-width="0.9"/>
<line x1="46.7" y1="638.50" x2="49.5" y2="638.50" stroke="#222" stroke-width="0.9"/>
<text x="44.20" y="641.60" font-size="8.7" text-anchor="end" >0</text>
<line x1="48.0" y1="634.40" x2="49.5" y2="634.40" stroke="#333" stroke-width="0.8"/>
<line x1="48.0" y1="630.30" x2="49.5" y2="630.30" stroke="#333" stroke-width="0.8"/>
<line x1="48.0" y1="626.20" x2="49.5" y2="626.20" stroke="#333" stroke-width="0.8"/>
<line x1="46.7" y1="622.10" x2="49.5" y2="622.10" stroke="#222" stroke-width="0.9"/>
<text x="44.20" y="625.20" font-size="8.7" text-anchor="end" >20</text>
<line x1="48.0" y1="618.00" x2="49.5" y2="618.00" stroke="#333" stroke-width="0.8"/>
<line x1="48.0" y1="613.90" x2="49.5" y2="613.90" stroke="#333" stroke-width="0.8"/>
<line x1="48.0" y1="609.80" x2="49.5" y2="609.80" stroke="#333" stroke-width="0.8"/>
<line x1="46.7" y1="605.70" x2="49.5" y2="605.70" stroke="#222" stroke-width="0.9"/>
<text x="44.20" y="608.80" font-size="8.7" text-anchor="end" >40</text>
<line x1="48.0" y1="601.60" x2="49.5" y2="601.60" stroke="#333" stroke-width="0.8"/>
<line x1="48.0" y1="597.50" x2="49.5" y2="597.50" stroke="#333" stroke-width="0.8"/>
<line x1="48.0" y1="593.40" x2="49.5" y2="593.40" stroke="#333" stroke-width="0.8"/>
<line x1="46.7" y1="589.30" x2="49.5" y2="589.30" stroke="#222" stroke-width="0.9"/>
<text x="44.20" y="592.40" font-size="8.7" text-anchor="end" >60</text>
<line x1="48.0" y1="585.20" x2="49.5" y2="585.20" stroke="#333" stroke-width="0.8"/>
<line x1="48.0" y1="581.10" x2="49.5" y2="581.10" stroke="#333" stroke-width="0.8"/>
<line x1="48.0" y1="577.00" x2="49.5" y2="577.00" stroke="#333" stroke-width="0.8"/>
<line x1="46.7" y1="572.90" x2="49.5" y2="572.90" stroke="#222" stroke-width="0.9"/>
<text x="44.20" y="576.00" font-size="8.7" text-anchor="end" >80</text>
<line x1="48.0" y1="568.80" x2="49.5" y2="568.80" stroke="#333" stroke-width="0.8"/>
<line x1="48.0" y1="564.70" x2="49.5" y2="564.70" stroke="#333" stroke-width="0.8"/>
<line x1="48.0" y1="560.60" x2="49.5" y2="560.60" stroke="#333" stroke-width="0.8"/>
<line x1="46.7" y1="556.50" x2="49.5" y2="556.50" stroke="#222" stroke-width="0.9"/>
<text x="44.20" y="559.60" font-size="8.7" text-anchor="end" >100</text>
<line x1="92.2" y1="638.8" x2="92.2" y2="641.5999999999999" stroke="#222" stroke-width="0.9"/>
<line x1="118.5" y1="638.8" x2="118.5" y2="641.5999999999999" stroke="#222" stroke-width="0.9"/>
<line x1="141.9" y1="638.8" x2="141.9" y2="641.5999999999999" stroke="#222" stroke-width="0.9"/>
<line x1="51.30" y1="638.8" x2="51.30" y2="640.8" stroke="#333" stroke-width="0.8"/>
<line x1="59.30" y1="638.8" x2="59.30" y2="640.8" stroke="#333" stroke-width="0.8"/>
<line x1="83.80" y1="638.8" x2="83.80" y2="640.8" stroke="#333" stroke-width="0.8"/>
<line x1="111.80" y1="638.8" x2="111.80" y2="640.8" stroke="#333" stroke-width="0.8"/>
<line x1="134.70" y1="638.8" x2="134.70" y2="640.8" stroke="#333" stroke-width="0.8"/>
<line x1="100.12" y1="638.8" x2="100.12" y2="640.0" stroke="#555" stroke-width="0.6"/>
<line x1="104.75" y1="638.8" x2="104.75" y2="640.0" stroke="#555" stroke-width="0.6"/>
<line x1="108.03" y1="638.8" x2="108.03" y2="640.0" stroke="#555" stroke-width="0.6"/>
<line x1="110.58" y1="638.8" x2="110.58" y2="640.0" stroke="#555" stroke-width="0.6"/>
<line x1="112.67" y1="638.8" x2="112.67" y2="640.0" stroke="#555" stroke-width="0.6"/>
<line x1="114.43" y1="638.8" x2="114.43" y2="640.0" stroke="#555" stroke-width="0.6"/>
<line x1="115.95" y1="638.8" x2="115.95" y2="640.0" stroke="#555" stroke-width="0.6"/>
<line x1="117.30" y1="638.8" x2="117.30" y2="640.0" stroke="#555" stroke-width="0.6"/>
<line x1="125.54" y1="638.8" x2="125.54" y2="640.0" stroke="#555" stroke-width="0.6"/>
<line x1="129.66" y1="638.8" x2="129.66" y2="640.0" stroke="#555" stroke-width="0.6"/>
<line x1="132.59" y1="638.8" x2="132.59" y2="640.0" stroke="#555" stroke-width="0.6"/>
<line x1="134.86" y1="638.8" x2="134.86" y2="640.0" stroke="#555" stroke-width="0.6"/>
<line x1="136.71" y1="638.8" x2="136.71" y2="640.0" stroke="#555" stroke-width="0.6"/>
<line x1="138.28" y1="638.8" x2="138.28" y2="640.0" stroke="#555" stroke-width="0.6"/>
<line x1="139.63" y1="638.8" x2="139.63" y2="640.0" stroke="#555" stroke-width="0.6"/>
<line x1="140.83" y1="638.8" x2="140.83" y2="640.0" stroke="#555" stroke-width="0.6"/>
<line x1="55.30" y1="638.8" x2="55.30" y2="640.0" stroke="#555" stroke-width="0.6"/>
<line x1="62.60" y1="638.8" x2="62.60" y2="640.0" stroke="#555" stroke-width="0.6"/>
<line x1="66.20" y1="638.8" x2="66.20" y2="640.0" stroke="#555" stroke-width="0.6"/>
<line x1="149.90" y1="638.8" x2="149.90" y2="640.0" stroke="#555" stroke-width="0.6"/>
<rect x="68.8" y="638.8" width="5.50" height="2.0" fill="#111"/>
<text x="72.00" y="650.60" font-size="8.9" text-anchor="middle" >0</text>
<text x="91.60" y="650.60" font-size="8.9" text-anchor="middle">10<tspan font-size="6.6" dy="-3.8">3</tspan></text>
<text x="117.90" y="650.60" font-size="8.9" text-anchor="middle">10<tspan font-size="6.6" dy="-3.8">4</tspan></text>
<text x="141.30" y="650.60" font-size="8.9" text-anchor="middle">10<tspan font-size="6.6" dy="-3.8">5</tspan></text>
<text x="100.90" y="664.90" font-size="10.6" text-anchor="middle" >CXCR3</text>
<text x="0" y="0" font-size="9.7" text-anchor="middle" transform="translate(28.09,596.55) rotate(-90)">% Maximum</text>
<text x="101.2" y="546.7" font-size="12.75" text-anchor="middle">CD8<tspan font-size="8" dy="-4.3">+</tspan><tspan dy="4.3"> T cells</tspan></text>
<line x1="158.8" y1="590.7" x2="174.4" y2="590.7" stroke="#ff4242" stroke-width="2"/>
<line x1="158.8" y1="604.3" x2="174.4" y2="604.3" stroke="#12dde3" stroke-width="2"/>
<text x="177.8" y="594.4" font-size="12.8">T<tspan font-size="8.0">EM</tspan></text>
<text x="177.8" y="606.6" font-size="12.8">T<tspan font-size="8.0">EMRA</tspan></text>
<path d="M50.50,801.10 C56.55,801.10 80.22,801.37 86.80,801.10 C93.38,800.83 89.02,800.12 90.00,799.50 C90.98,798.88 91.80,798.12 92.70,797.40 C93.60,796.68 94.50,795.75 95.40,795.20 C96.30,794.65 97.20,794.63 98.10,794.10 C99.00,793.57 99.90,792.53 100.80,792.00 C101.70,791.47 102.70,792.07 103.50,790.90 C104.30,789.73 104.98,788.13 105.60,785.00 C106.22,781.87 106.67,776.22 107.20,772.10 C107.73,767.98 108.17,763.52 108.80,760.30 C109.43,757.08 110.37,755.48 111.00,752.80 C111.63,750.12 112.07,747.95 112.60,744.20 C113.13,740.45 113.58,734.32 114.20,730.30 C114.82,726.28 115.68,721.37 116.30,720.10 C116.92,718.83 117.35,721.37 117.90,722.70 C118.45,724.03 119.05,725.42 119.60,728.10 C120.15,730.78 120.58,734.33 121.20,738.80 C121.82,743.27 122.58,749.35 123.30,754.90 C124.02,760.45 124.78,766.72 125.50,772.10 C126.22,777.48 126.88,783.62 127.60,787.20 C128.32,790.78 129.08,791.63 129.80,793.60 C130.52,795.57 131.20,797.75 131.90,799.00 C132.60,800.25 130.77,800.75 134.00,801.10 C137.23,801.45 148.42,801.10 151.30,801.10" fill="none" stroke="#ff4242" stroke-width="1.1"/>
<path d="M50.50,801.10 C54.58,801.07 70.42,801.18 75.00,800.90 C79.58,800.62 76.93,799.62 78.00,799.40 C79.07,799.18 80.28,799.32 81.40,799.60 C82.52,799.88 83.62,800.85 84.70,801.10 C85.78,801.35 86.83,801.45 87.90,801.10 C88.97,800.75 90.12,799.80 91.10,799.00 C92.08,798.20 92.90,797.17 93.80,796.30 C94.70,795.43 95.70,793.98 96.50,793.80 C97.30,793.62 97.80,794.52 98.60,795.20 C99.40,795.88 100.48,797.82 101.30,797.90 C102.12,797.98 102.87,797.13 103.50,795.70 C104.13,794.27 104.48,792.15 105.10,789.30 C105.72,786.45 106.48,782.53 107.20,778.60 C107.92,774.67 108.68,769.47 109.40,765.70 C110.12,761.93 110.88,759.58 111.50,756.00 C112.12,752.42 112.57,748.58 113.10,744.20 C113.63,739.82 114.17,731.48 114.70,729.70 C115.23,727.92 115.77,732.97 116.30,733.50 C116.83,734.03 117.27,731.12 117.90,732.90 C118.53,734.68 119.38,740.17 120.10,744.20 C120.82,748.23 121.48,752.80 122.20,757.10 C122.92,761.40 123.68,765.70 124.40,770.00 C125.12,774.30 125.78,779.50 126.50,782.90 C127.22,786.30 127.80,788.08 128.70,790.40 C129.60,792.72 130.83,795.02 131.90,796.80 C132.97,798.58 131.87,800.38 135.10,801.10 C138.33,801.82 148.60,801.10 151.30,801.10" fill="none" stroke="#12dde3" stroke-width="1.1"/>
<path d="M49.5,714.9 H151.45 V801.6" fill="none" stroke="#8a8a8a" stroke-width="1.1"/>
<path d="M49.5,714.9 V801.6 H151.45" fill="none" stroke="#333" stroke-width="0.9"/>
<line x1="46.7" y1="801.30" x2="49.5" y2="801.30" stroke="#222" stroke-width="0.9"/>
<text x="44.20" y="804.40" font-size="8.7" text-anchor="end" >0</text>
<line x1="48.0" y1="797.20" x2="49.5" y2="797.20" stroke="#333" stroke-width="0.8"/>
<line x1="48.0" y1="793.10" x2="49.5" y2="793.10" stroke="#333" stroke-width="0.8"/>
<line x1="48.0" y1="789.00" x2="49.5" y2="789.00" stroke="#333" stroke-width="0.8"/>
<line x1="46.7" y1="784.90" x2="49.5" y2="784.90" stroke="#222" stroke-width="0.9"/>
<text x="44.20" y="788.00" font-size="8.7" text-anchor="end" >20</text>
<line x1="48.0" y1="780.80" x2="49.5" y2="780.80" stroke="#333" stroke-width="0.8"/>
<line x1="48.0" y1="776.70" x2="49.5" y2="776.70" stroke="#333" stroke-width="0.8"/>
<line x1="48.0" y1="772.60" x2="49.5" y2="772.60" stroke="#333" stroke-width="0.8"/>
<line x1="46.7" y1="768.50" x2="49.5" y2="768.50" stroke="#222" stroke-width="0.9"/>
<text x="44.20" y="771.60" font-size="8.7" text-anchor="end" >40</text>
<line x1="48.0" y1="764.40" x2="49.5" y2="764.40" stroke="#333" stroke-width="0.8"/>
<line x1="48.0" y1="760.30" x2="49.5" y2="760.30" stroke="#333" stroke-width="0.8"/>
<line x1="48.0" y1="756.20" x2="49.5" y2="756.20" stroke="#333" stroke-width="0.8"/>
<line x1="46.7" y1="752.10" x2="49.5" y2="752.10" stroke="#222" stroke-width="0.9"/>
<text x="44.20" y="755.20" font-size="8.7" text-anchor="end" >60</text>
<line x1="48.0" y1="748.00" x2="49.5" y2="748.00" stroke="#333" stroke-width="0.8"/>
<line x1="48.0" y1="743.90" x2="49.5" y2="743.90" stroke="#333" stroke-width="0.8"/>
<line x1="48.0" y1="739.80" x2="49.5" y2="739.80" stroke="#333" stroke-width="0.8"/>
<line x1="46.7" y1="735.70" x2="49.5" y2="735.70" stroke="#222" stroke-width="0.9"/>
<text x="44.20" y="738.80" font-size="8.7" text-anchor="end" >80</text>
<line x1="48.0" y1="731.60" x2="49.5" y2="731.60" stroke="#333" stroke-width="0.8"/>
<line x1="48.0" y1="727.50" x2="49.5" y2="727.50" stroke="#333" stroke-width="0.8"/>
<line x1="48.0" y1="723.40" x2="49.5" y2="723.40" stroke="#333" stroke-width="0.8"/>
<line x1="46.7" y1="719.30" x2="49.5" y2="719.30" stroke="#222" stroke-width="0.9"/>
<text x="44.20" y="722.40" font-size="8.7" text-anchor="end" >100</text>
<line x1="90.2" y1="801.6" x2="90.2" y2="804.4" stroke="#222" stroke-width="0.9"/>
<line x1="117.4" y1="801.6" x2="117.4" y2="804.4" stroke="#222" stroke-width="0.9"/>
<line x1="141.9" y1="801.6" x2="141.9" y2="804.4" stroke="#222" stroke-width="0.9"/>
<line x1="51.30" y1="801.6" x2="51.30" y2="803.6" stroke="#333" stroke-width="0.8"/>
<line x1="59.30" y1="801.6" x2="59.30" y2="803.6" stroke="#333" stroke-width="0.8"/>
<line x1="81.80" y1="801.6" x2="81.80" y2="803.6" stroke="#333" stroke-width="0.8"/>
<line x1="110.70" y1="801.6" x2="110.70" y2="803.6" stroke="#333" stroke-width="0.8"/>
<line x1="134.70" y1="801.6" x2="134.70" y2="803.6" stroke="#333" stroke-width="0.8"/>
<line x1="98.39" y1="801.6" x2="98.39" y2="802.8000000000001" stroke="#555" stroke-width="0.6"/>
<line x1="103.18" y1="801.6" x2="103.18" y2="802.8000000000001" stroke="#555" stroke-width="0.6"/>
<line x1="106.58" y1="801.6" x2="106.58" y2="802.8000000000001" stroke="#555" stroke-width="0.6"/>
<line x1="109.21" y1="801.6" x2="109.21" y2="802.8000000000001" stroke="#555" stroke-width="0.6"/>
<line x1="111.37" y1="801.6" x2="111.37" y2="802.8000000000001" stroke="#555" stroke-width="0.6"/>
<line x1="113.19" y1="801.6" x2="113.19" y2="802.8000000000001" stroke="#555" stroke-width="0.6"/>
<line x1="114.76" y1="801.6" x2="114.76" y2="802.8000000000001" stroke="#555" stroke-width="0.6"/>
<line x1="116.16" y1="801.6" x2="116.16" y2="802.8000000000001" stroke="#555" stroke-width="0.6"/>
<line x1="124.78" y1="801.6" x2="124.78" y2="802.8000000000001" stroke="#555" stroke-width="0.6"/>
<line x1="129.09" y1="801.6" x2="129.09" y2="802.8000000000001" stroke="#555" stroke-width="0.6"/>
<line x1="132.15" y1="801.6" x2="132.15" y2="802.8000000000001" stroke="#555" stroke-width="0.6"/>
<line x1="134.52" y1="801.6" x2="134.52" y2="802.8000000000001" stroke="#555" stroke-width="0.6"/>
<line x1="136.46" y1="801.6" x2="136.46" y2="802.8000000000001" stroke="#555" stroke-width="0.6"/>
<line x1="138.10" y1="801.6" x2="138.10" y2="802.8000000000001" stroke="#555" stroke-width="0.6"/>
<line x1="139.53" y1="801.6" x2="139.53" y2="802.8000000000001" stroke="#555" stroke-width="0.6"/>
<line x1="140.78" y1="801.6" x2="140.78" y2="802.8000000000001" stroke="#555" stroke-width="0.6"/>
<line x1="55.30" y1="801.6" x2="55.30" y2="802.8000000000001" stroke="#555" stroke-width="0.6"/>
<line x1="62.60" y1="801.6" x2="62.60" y2="802.8000000000001" stroke="#555" stroke-width="0.6"/>
<line x1="66.20" y1="801.6" x2="66.20" y2="802.8000000000001" stroke="#555" stroke-width="0.6"/>
<line x1="149.90" y1="801.6" x2="149.90" y2="802.8000000000001" stroke="#555" stroke-width="0.6"/>
<rect x="66.6" y="801.6" width="7.20" height="2.0" fill="#111"/>
<text x="70.50" y="813.40" font-size="8.9" text-anchor="middle" >0</text>
<text x="89.60" y="813.40" font-size="8.9" text-anchor="middle">10<tspan font-size="6.6" dy="-3.8">3</tspan></text>
<text x="116.80" y="813.40" font-size="8.9" text-anchor="middle">10<tspan font-size="6.6" dy="-3.8">4</tspan></text>
<text x="141.30" y="813.40" font-size="8.9" text-anchor="middle">10<tspan font-size="6.6" dy="-3.8">5</tspan></text>
<text x="100.90" y="827.70" font-size="10.6" text-anchor="middle" >CXCR3</text>
<text x="0" y="0" font-size="9.7" text-anchor="middle" transform="translate(28.09,759.25) rotate(-90)">% Maximum</text>
<text x="101.2" y="709.6" font-size="12.8" text-anchor="middle">T<tspan font-size="8.3">EM</tspan></text>
<line x1="158.8" y1="751.8" x2="174.4" y2="751.8" stroke="#ff4242" stroke-width="2"/>
<line x1="158.8" y1="764.7" x2="174.4" y2="764.7" stroke="#12dde3" stroke-width="2"/>
<text x="178.2" y="756.3" font-size="12.5">CD69<tspan font-size="8.2" dy="-4.6">+</tspan></text>
<text x="178.2" y="769.2" font-size="12.5">CD69<tspan font-size="8.2" dy="-4.6">−</tspan></text>
</svg></body></html>
